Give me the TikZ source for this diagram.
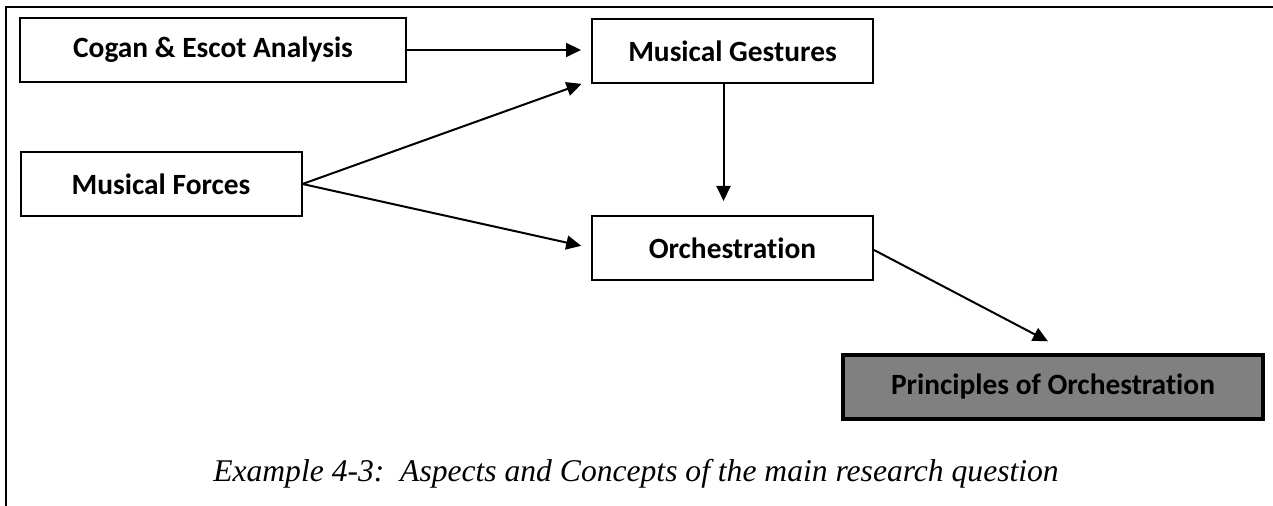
\documentclass[tikz,border=0pt]{standalone}
\usepackage{fontspec}
\setmainfont{Liberation Serif}
\newfontfamily\boxfont[Ligatures=NoCommon]{Carlito}
\usepackage{tikz}
\usetikzlibrary{arrows.meta}
\tikzset{
    concept/.style={draw=black, line width=1pt, fill=white, minimum width=140.5pt,
        minimum height=32pt, inner sep=0pt, font=\boxfont\bfseries\fontsize{14.7}{17}\selectfont},
    result/.style={concept, fill=black!50, line width=1.6pt, minimum width=210pt},
    link/.style={draw=black, line width=1pt, shorten >=5pt,
        -{Triangle[length=7.5pt,width=7pt]}}
}
\begin{document}
\begin{tikzpicture}[x=0.5pt, y=-0.5pt]
\useasboundingbox (0,0) rectangle (1273,506);
% frame
\coordinate (frametop) at (1273,7);
\coordinate (framecorner) at (6,7);
\coordinate (framebottom) at (6,506);
\draw[line width=1.2pt] (frametop) -- (framecorner) -- (framebottom);

\node[concept, minimum width=193pt] (cogan) at (213,50) {Cogan \& Escot Analysis};
\node[concept] (forces) at (161,184) {Musical Forces};
\node[concept] (gestures) at (732.5,51.5) {Musical Gestures};
\node[concept] (orch) at (732.5,248) {Orchestration};
\node[result] (principles) at (1053,387) {Principles of Orchestration};

\draw[style={link}] (cogan.east) -- (cogan.east -| gestures.west);
\draw[style={link}] (forces.east) -- ([yshift=2pt]gestures.south west);
\draw[style={link}] (forces.east) -- (orch.west);
\draw[style={link}, shorten >=7pt] ([xshift=-4.5pt]gestures.south) -- ([xshift=-4.5pt]orch.north);
\draw[style={link}, shorten >=13pt] ([yshift=-1pt]orch.east) -- ([xshift=9pt]principles.north);

% caption under the chart
\node[anchor=base, inner sep=0pt, font=\itshape\fontsize{15.8}{18}\selectfont] (caption) at (636,482)
  {Example 4-3:\ \ Aspects and Concepts of the main research question};
\end{tikzpicture}
\end{document}
